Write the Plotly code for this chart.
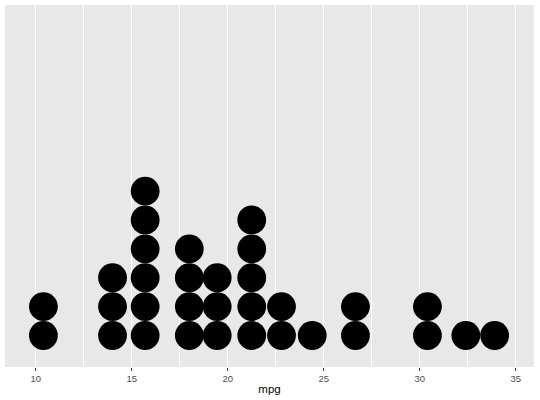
import plotly.graph_objects as go

# dot-density bins of mtcars mpg (binwidth 1.5)
bin_centers = [10.4, 14.0, 15.7, 18.0, 19.45, 21.25, 22.8, 24.4, 26.65, 30.4, 32.4, 33.9]
bin_counts = [2, 3, 6, 4, 3, 5, 2, 1, 2, 2, 1, 1]
x_ticks = [10, 15, 20, 25, 30, 35]

xs = []
ys = []
for c, n in zip(bin_centers, bin_counts):
    for k in range(n):
        xs.append(c)
        ys.append(k + 0.5)

fig = go.Figure(
    go.Scatter(
        x=xs,
        y=ys,
        mode="markers",
        marker=dict(size=28.8, color="black", line=dict(width=0)),
        hoverinfo="x",
    )
)

fig.update_layout(
    width=540,
    height=400,
    margin=dict(l=5, r=6, t=5, b=33),
    paper_bgcolor="white",
    plot_bgcolor="#E8E8E8",
    showlegend=False,
    font=dict(family="Liberation Sans, Arial, sans-serif"),
)

fig.update_xaxes(
    range=[8.4, 35.95],
    tickvals=x_ticks,
    ticks="outside",
    ticklen=3,
    tickwidth=1,
    tickcolor="#333333",
    tickfont=dict(size=9.5, color="#4D4D4D"),
    showgrid=True,
    gridcolor="white",
    gridwidth=1.1,
    minor=dict(dtick=2.5, tick0=12.5, showgrid=True, gridcolor="white", gridwidth=0.5),
    zeroline=False,
    showline=False,
    title=dict(text="mpg", font=dict(size=11.5, color="black"), standoff=1),
)

fig.update_yaxes(
    range=[-0.59, 11.94],
    showticklabels=False,
    showgrid=False,
    zeroline=False,
    ticks="",
)

# drop the browser's default page margin so the 540x400 figure fills the window
fig.write_html(
    "out.html",
    config={"displayModeBar": False},
    post_script="document.body.style.margin='0';",
)
